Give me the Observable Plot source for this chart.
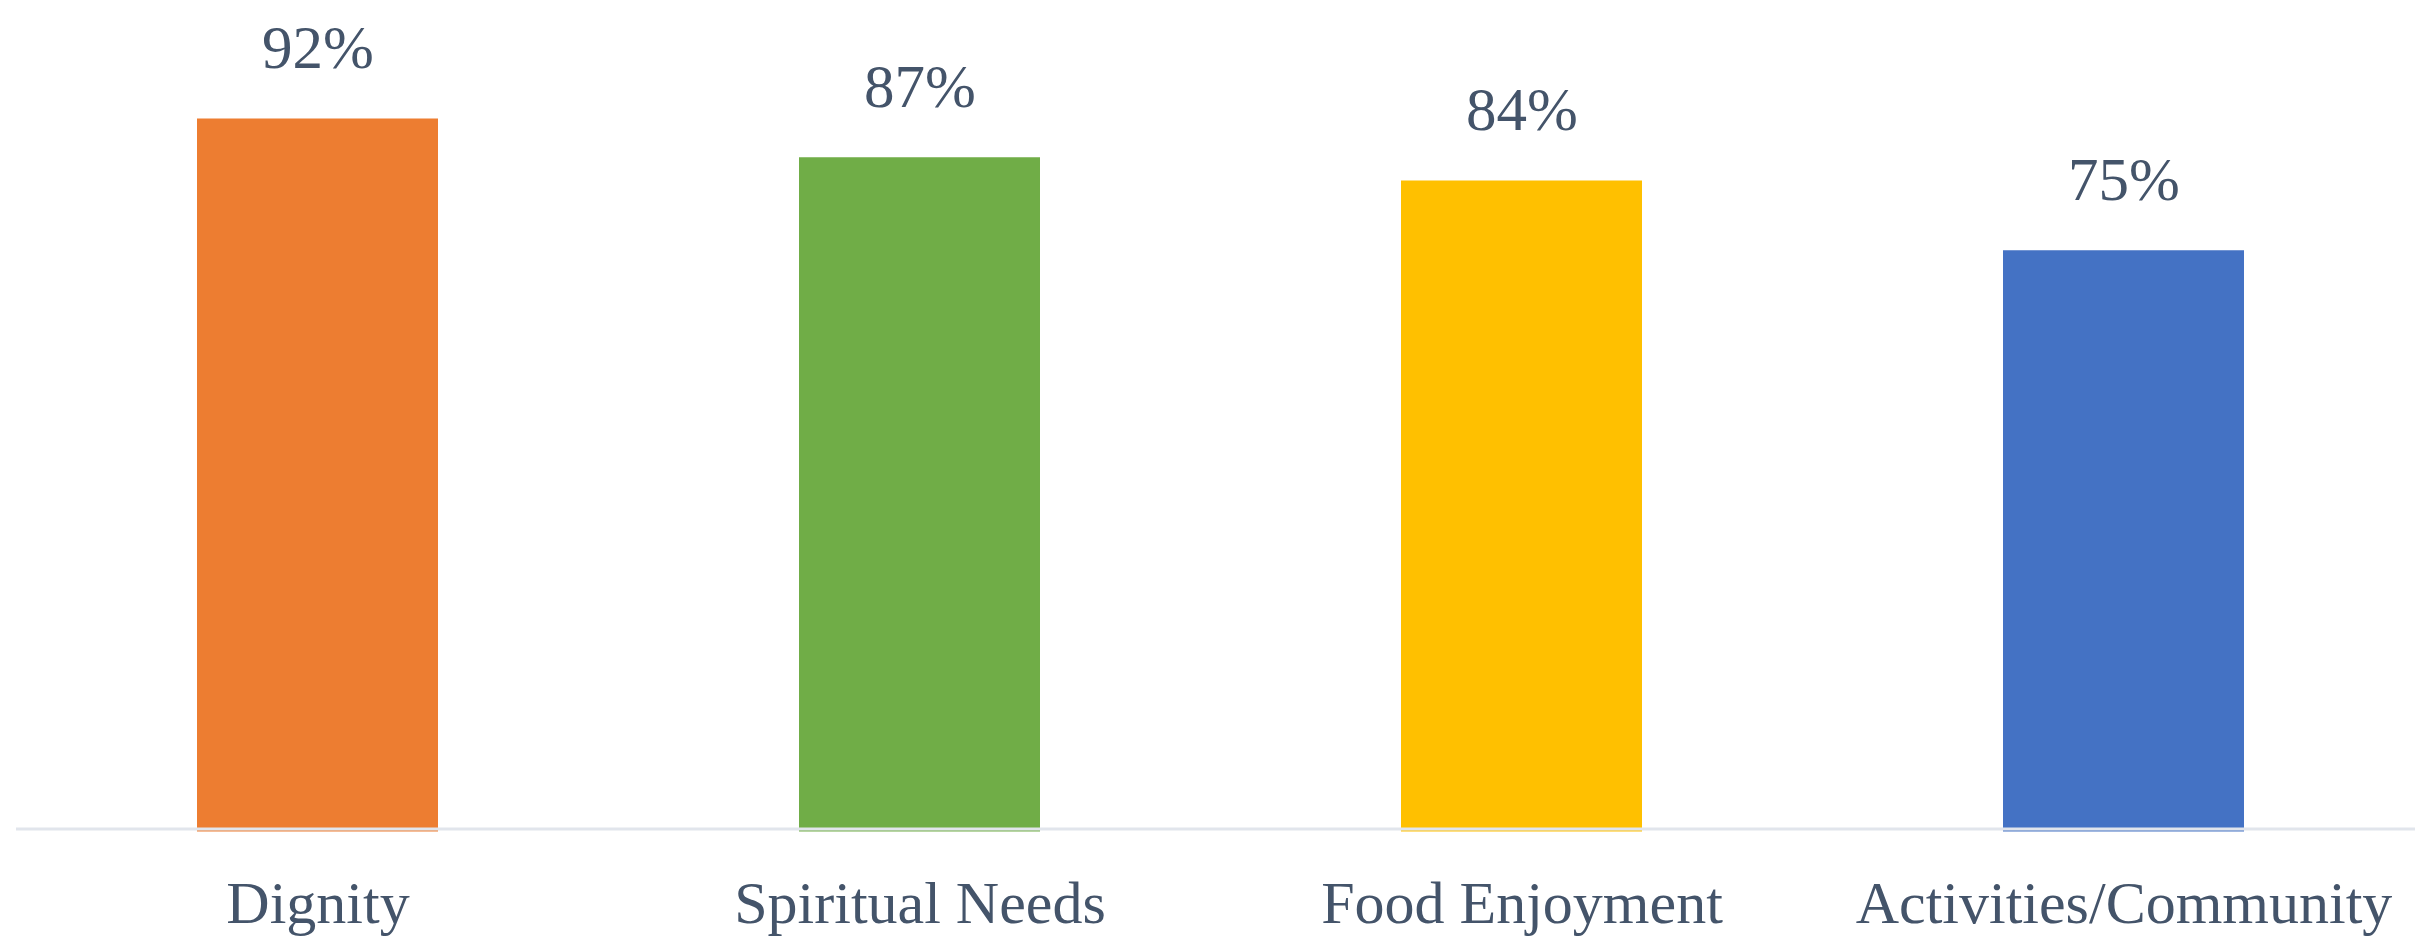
<!DOCTYPE html>
<html>
<head>
<meta charset="utf-8">
<script src="https://cdn.jsdelivr.net/npm/d3@7"></script>
<script src="https://cdn.jsdelivr.net/npm/@observablehq/plot@0.6"></script>
<style>
  html, body { margin: 0; padding: 0; background: #ffffff; overflow: hidden; }
  #chart svg { display: block; }
</style>
</head>
<body>
<div id="chart"></div>
<script>
const categories = ["Dignity", "Spiritual Needs", "Food Enjoyment", "Activities/Community"];
const values = [92, 87, 84, 75];
const colors = ["#ED7D31", "#70AD47", "#FFC000", "#4472C4"];

const data = categories.map((c, i) => ({category: c, value: values[i], color: colors[i]}));

const textColor = "#44546A";
const fontFamily = "'Liberation Serif', 'DejaVu Serif', serif";

const chart = Plot.plot({
  width: 2415,
  height: 942,
  marginLeft: 16,
  marginRight: 0,
  marginTop: 56.5,
  marginBottom: 110.5,
  style: {fontFamily, background: "#ffffff"},
  x: {
    domain: categories,
    range: [16, 2424],
    paddingInner: 0.6,
    paddingOuter: 0.3,
    label: null
  },
  y: {domain: [0, 100], axis: null},
  marks: [
    Plot.barY(data, {x: "category", y: "value", fill: "color"}),
    Plot.ruleY([0], {stroke: "#E1E5EC", strokeWidth: 3, dy: -3}),
    Plot.text(data, {
      x: "category",
      y: "value",
      text: d => d.value + "%",
      lineAnchor: "bottom",
      dy: -51,
      fontSize: 61,
      fill: textColor,
      fontFamily
    }),
    Plot.axisX({
      tickSize: 0,
      tickPadding: 48,
      fontSize: 60,
      color: textColor,
      fill: textColor,
      label: null
    })
  ]
});

document.getElementById("chart").appendChild(chart);
</script>
</body>
</html>
